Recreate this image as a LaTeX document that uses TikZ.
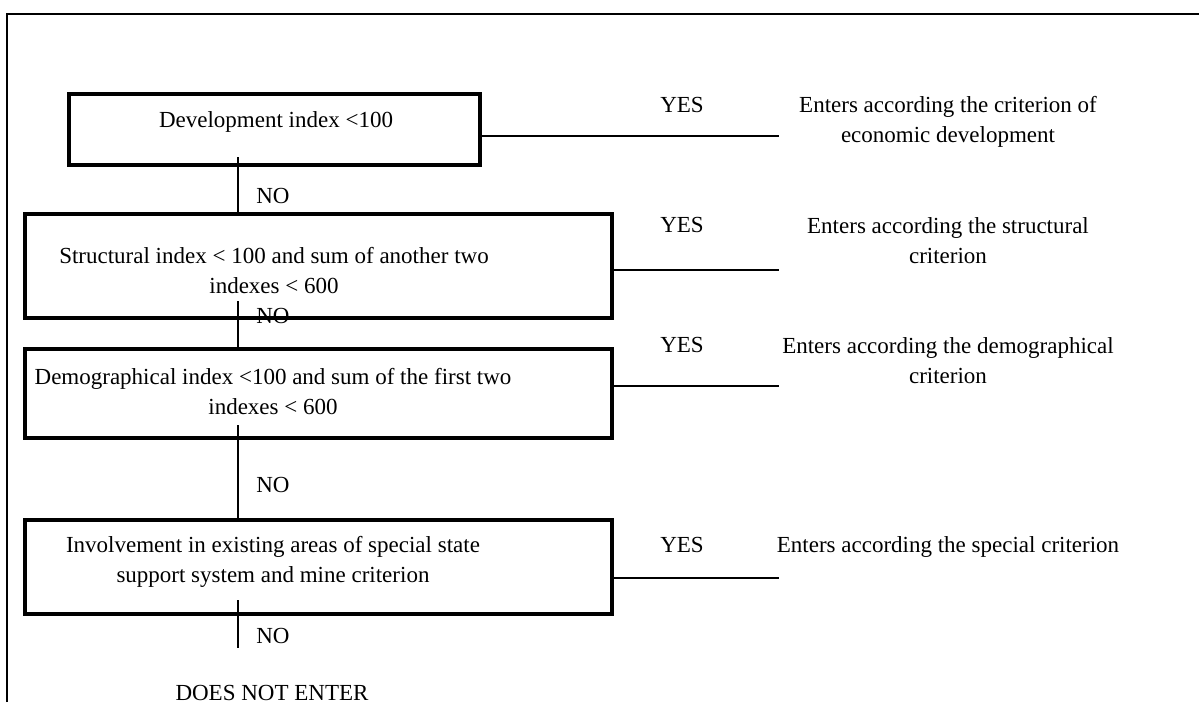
\documentclass[tikz,border=0pt]{standalone}
\usepackage{fontspec}
\setmainfont{Liberation Serif}

\tikzset{
	box/.style={draw, line width=2.25pt, inner sep=0pt, outer sep=0pt},
	txt/.style={anchor=base, align=center, inner sep=0pt, font=\fontsize{11.5}{15}\selectfont},
	link/.style={line width=0.65pt}
}

\begin{document}
\begin{tikzpicture}[x=0.5pt, y=-0.5pt]
	\useasboundingbox (0,0) rectangle (1199,702);
	\draw[line width=1pt] (7,702) -- (7,14) -- (1199,14);

	\node[box, minimum width=205.5pt, minimum height=35.5pt] (b1) at (274.5,129.5) {};
	\node[box, minimum width=293.5pt, minimum height=52pt] (b2) at (318.5,266) {};
	\node[box, minimum width=293.5pt, minimum height=44.5pt] (b3) at (318.5,393.5) {};
	\node[box, minimum width=293.5pt, minimum height=47pt] (b4) at (318.5,567) {};

	% base of the last line
	\node[txt] (t1) at (276,127) {Development index <100};
	\node[txt] (t2) at (274,293) {Structural index < 100 and sum of another two\\indexes < 600};
	\node[txt] (t3) at (273,414) {Demographical index <100 and sum of the first two\\indexes < 600};
	\node[txt] (t4) at (273,582) {Involvement in existing areas of special state\\support system and mine criterion};

	\coordinate (v) at (238,0);
	\draw[link] (v |- b1.south) ++(0,-8) -- (v |- b2.north);
	\draw[link] (v |- b2.south) ++(0,-17) -- (v |- b3.north);
	\draw[link] (v |- b3.south) ++(0,-13) -- (v |- b4.north);
	\coordinate (end) at (238,648);
	\draw[link] (v |- b4.south) ++(0,-14) -- (end);

	\node[txt] (n1) at (273,203) {NO};
	\node[txt] (n2) at (273,323) {NO};
	\node[txt] (n3) at (273,492) {NO};
	\node[txt] (n4) at (273,643) {NO};
	\node[txt] (out) at (272,700) {DOES NOT ENTER};

	% yes branches
	\coordinate (e1) at (779,136);
	\coordinate (e2) at (779,270);
	\coordinate (e3) at (779,386);
	\coordinate (e4) at (779,578);
	\draw[link] (e1 -| b1.east) -- (e1);
	\draw[link] (e2 -| b2.east) -- (e2);
	\draw[link] (e3 -| b3.east) -- (e3);
	\draw[link] (e4 -| b4.east) -- (e4);

	\node[txt] (y1) at (682,112) {YES};
	\node[txt] (y2) at (682,232) {YES};
	\node[txt] (y3) at (682,352) {YES};
	\node[txt] (y4) at (682,552) {YES};

	\node[txt] (r1) at (948,142) {Enters according the criterion of\\economic development};
	\node[txt] (r2) at (948,263) {Enters according the structural\\criterion};
	\node[txt] (r3) at (948,383) {Enters according the demographical\\criterion};
	\node[txt] (r4) at (948,552) {Enters according the special criterion};
\end{tikzpicture}
\end{document}
